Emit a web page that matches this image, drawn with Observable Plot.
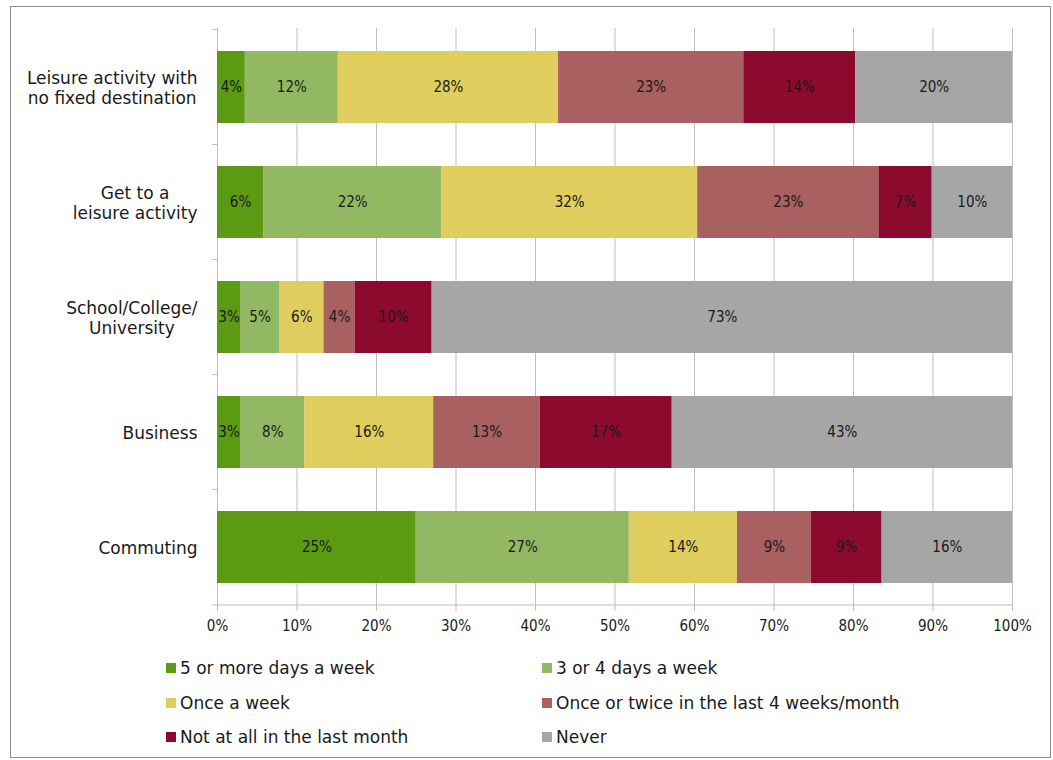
<!DOCTYPE html>
<html><head><meta charset="utf-8">
<script src="https://cdn.jsdelivr.net/npm/d3@7"></script>
<script src="https://cdn.jsdelivr.net/npm/@observablehq/plot@0.6"></script>
<style>
body{margin:0;background:#fff;font-family:"DejaVu Sans",sans-serif;}
#frame{position:absolute;left:10px;top:6px;width:1041px;height:752px;border:1px solid #8c8c8c;box-sizing:border-box;}
#chart{position:absolute;left:0;top:0;}
.li{position:absolute;font-size:17px;color:#1a1a1a;white-space:nowrap;line-height:20px;height:20px;font-family:"DejaVu Sans",sans-serif;}
.sw{position:absolute;left:0;top:5px;width:10px;height:10px;}
.lt{position:absolute;left:14px;top:0;}
</style></head>
<body>
<div id="frame"></div>
<div id="chart"></div>
<div id="legend"></div>
<script>
const categories = ["Leisure activity with\nno fixed destination", "Get to a\nleisure activity", "School/College/\nUniversity", "Business", "Commuting"];
const series = ["5 or more days a week", "3 or 4 days a week", "Once a week", "Once or twice in the last 4 weeks/month", "Not at all in the last month", "Never"];
const colors = ["#5b9a12", "#93b863", "#dfcd5e", "#a86060", "#8b0a2e", "#a6a6a6"];
const leisureNoDestination = [3.5, 11.7, 27.7, 23.3, 14.1, 19.7];
const getToLeisure = [5.8, 22.4, 32.2, 22.8, 6.7, 10.1];
const schoolCollege = [2.9, 4.9, 5.6, 3.9, 9.7, 73.0];
const business = [2.9, 8.1, 16.2, 13.4, 16.6, 42.8];
const commuting = [25.0, 26.8, 13.6, 9.3, 8.9, 16.4];
const xTicks = [0, 0.1, 0.2, 0.3, 0.4, 0.5, 0.6, 0.7, 0.8, 0.9, 1];

const valuesByCategory = [leisureNoDestination, getToLeisure, schoolCollege, business, commuting];
const rows = [];
categories.forEach((c, i) => valuesByCategory[i].forEach((v, j) => rows.push({cat: c, series: series[j], value: v / 100, label: Math.round(v) + "%"})));

const COND = '"DejaVu Sans Condensed","DejaVu Sans",sans-serif';
const chart = Plot.plot({
  width: 1053, height: 660,
  marginLeft: 217, marginRight: 41, marginTop: 28, marginBottom: 55,
  style: {fontFamily: COND, fontSize: "15px", color: "#1a1a1a", background: "transparent"},
  x: {domain: [0, 1]},
  y: {domain: categories, paddingInner: 0.375, paddingOuter: 0.1875},
  color: {domain: series, range: colors},
  marks: [
    Plot.gridX(xTicks, {stroke: "#bfbfbf", strokeOpacity: 1}),
    Plot.barX(rows, Plot.stackX({x: "value", y: "cat", fill: "series", order: null})),
    Plot.text(rows, Plot.stackX({x: "value", y: "cat", z: "series", text: "label", order: null, fill: "#1a1a1a", fontSize: 15})),
    Plot.axisX(xTicks, {tickFormat: d3.format(".0%"), tickSize: 6, tickPadding: 9, stroke: "#bfbfbf", fill: "#1a1a1a", fontSize: 15, label: null}),
    Plot.axisY({tickSize: 0, tickPadding: 20, fontSize: 17, fontFamily: '"DejaVu Sans",sans-serif', lineHeight: 1.18, fill: "#1a1a1a", label: null})
  ]
});
document.getElementById("chart").appendChild(chart);

// center lines within each multi-line category label block
const svg = d3.select(chart);
svg.selectAll('g[aria-label="y-axis tick label"] text').each(function() {
  const tspans = d3.select(this).selectAll("tspan");
  if (tspans.empty()) return;
  const lens = tspans.nodes().map(n => n.getComputedTextLength());
  const L = Math.max(...lens);
  tspans.each(function(_, k) { d3.select(this).attr("x", -(L - lens[k]) / 2); });
});

// category boundary ticks and bottom axis line, from the plot's scales
const ys = chart.scale("y"), xs = chart.scale("x");
const x0 = xs.apply(0), x1 = xs.apply(1);
const g = svg.append("g").attr("stroke", "#bfbfbf");
ys.domain.forEach(c => {
  const yb = ys.apply(c) - (ys.step - ys.bandwidth) / 2;
  g.append("line").attr("x1", x0 - 5).attr("x2", x0).attr("y1", yb).attr("y2", yb);
});
const yBottom = ys.range[1];
g.append("line").attr("x1", x0 - 5).attr("x2", x1).attr("y1", yBottom).attr("y2", yBottom);

// legend
const legendCols = [166, 542], legendRows = [658, 693, 727];
const legend = document.getElementById("legend");
series.forEach((s, i) => {
  const d = document.createElement("div");
  d.className = "li";
  d.style.left = legendCols[i % 2] + "px";
  d.style.top = legendRows[Math.floor(i / 2)] + "px";
  d.innerHTML = `<span class="sw" style="background:${colors[i]}"></span><span class="lt"></span>`;
  d.querySelector(".lt").textContent = s;
  legend.appendChild(d);
});
</script>
</body></html>
